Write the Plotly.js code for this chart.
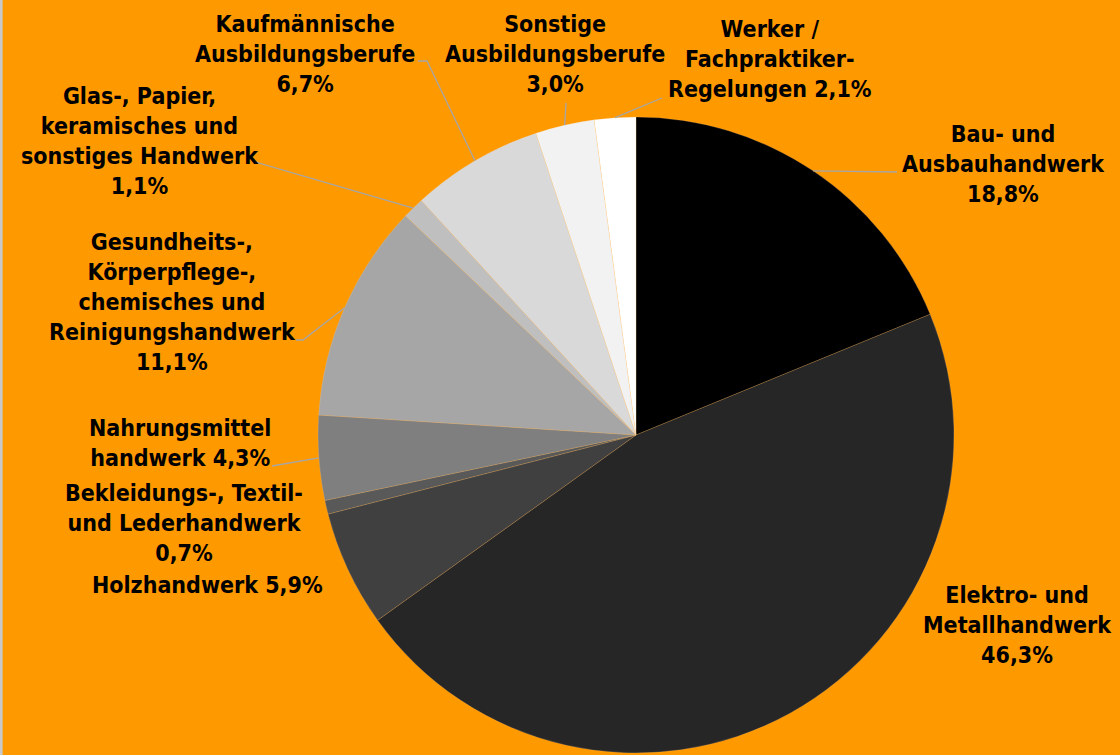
<!DOCTYPE html>
<html>
<head>
<meta charset="utf-8">
<script src="https://cdn.plot.ly/plotly-3.0.1.min.js"></script>
<style>html,body{margin:0;padding:0;background:#FF9900;}#chart{width:1120px;height:755px;}</style>
</head>
<body>
<div id="chart"></div>
<script>
// ---- data ----
const categories = [
  "Bau- und<br>Ausbauhandwerk",
  "Elektro- und<br>Metallhandwerk",
  "Holzhandwerk",
  "Bekleidungs-, Textil-<br>und Lederhandwerk",
  "Nahrungsmittel<br>handwerk",
  "Gesundheits-,<br>Körperpflege-,<br>chemisches und<br>Reinigungshandwerk",
  "Glas-, Papier,<br>keramisches und<br>sonstiges Handwerk",
  "Kaufmännische<br>Ausbildungsberufe",
  "Sonstige<br>Ausbildungsberufe",
  "Werker /<br>Fachpraktiker-<br>Regelungen"
];
const values = [18.8, 46.3, 5.9, 0.7, 4.3, 11.1, 1.1, 6.7, 3.0, 2.1];
const valueLabels = ["18,8%", "46,3%", "5,9%", "0,7%", "4,3%", "11,1%", "1,1%", "6,7%", "3,0%", "2,1%"];
// separator between name and value: new line (n) or space (s)
const joinMode = ["n", "n", "s", "n", "s", "n", "n", "n", "n", "s"];

// ---- styles / layout ----
const colors = ["#000000", "#262626", "#404040", "#595959", "#7f7f7f", "#a6a6a6", "#bfbfbf", "#d9d9d9", "#f2f2f2", "#ffffff"];
const W = 1120, H = 755;
const CX = 636, CY = 435, R = 318;
// label centre positions (px)
const labelPos = [
  [1003, 164], [1017, 625], [207, 585], [184, 523], [180, 443],
  [172, 302], [140, 141], [305, 54], [555, 54], [770, 59]
];
// leader elbow points (px) or null
const leaderPts = [
  [[897, 172]], null, null, null, [[272, 466]],
  [[296, 340], [303, 340]], [[252, 161]], [[418, 61], [427, 61]], [[566, 103]], [[662, 98]]
];

const FONT = "'Liberation Sans Narrow', 'DejaVu Sans Condensed', Arial Narrow, sans-serif";
const px = x => x / W, py = y => 1 - y / H;

const total = values.reduce((a, b) => a + b, 0);
const annotations = [];
const shapes = [];
let cum = 0;
values.forEach((v, i) => {
  const mid = (cum + v / 2) / total * 2 * Math.PI;
  cum += v;
  const ex = CX + R * Math.sin(mid), ey = CY - R * Math.cos(mid);
  const sep = joinMode[i] === "n" ? "<br>" : " ";
  annotations.push({
    x: px(labelPos[i][0]), y: py(labelPos[i][1]), xref: "paper", yref: "paper",
    text: "<b>" + categories[i] + sep + valueLabels[i] + "</b>",
    showarrow: false, xanchor: "center", yanchor: "middle", align: "center",
    font: {family: FONT, size: 23, color: "#000000"}
  });
  if (leaderPts[i]) {
    const pts = leaderPts[i].concat([[ex, ey]]);
    let path = "M " + pts.map(p => px(p[0]) + " " + py(p[1])).join(" L ");
    shapes.push({type: "path", xref: "paper", yref: "paper", path: path,
      line: {color: "#a6a6a6", width: 1.3}});
  }
});
shapes.push({type: "line", xref: "paper", yref: "paper", x0: 0.001, x1: 0.001, y0: 0, y1: 1,
  line: {color: "#c8c8c8", width: 3}});

const trace = {
  type: "pie",
  labels: categories,
  values: values,
  sort: false,
  direction: "clockwise",
  rotation: 0,
  textinfo: "none",
  hoverinfo: "label+percent",
  marker: {colors: colors, line: {color: "rgba(255,200,140,0.35)", width: 0.6}},
  domain: {x: [(CX - R) / W, (CX + R) / W], y: [1 - (CY + R) / H, 1 - (CY - R) / H]},
  showlegend: false
};

const layout = {
  width: W, height: H,
  margin: {l: 0, r: 0, t: 0, b: 0},
  paper_bgcolor: "#FF9900",
  plot_bgcolor: "#FF9900",
  showlegend: false,
  annotations: annotations,
  shapes: shapes
};

Plotly.newPlot("chart", [trace], layout, {displayModeBar: false, staticPlot: true});
</script>
</body>
</html>
